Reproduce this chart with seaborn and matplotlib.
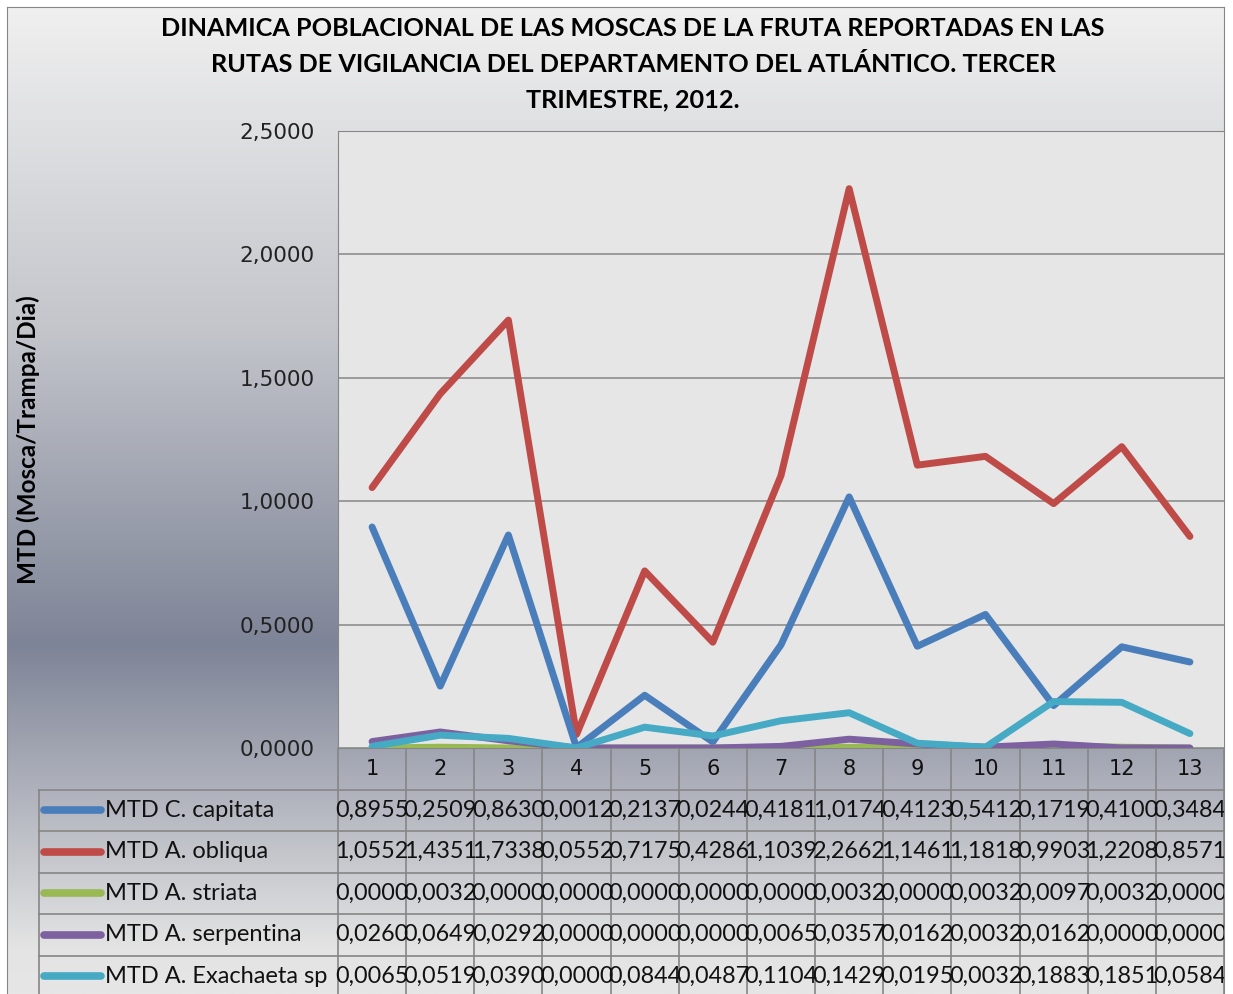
import numpy as np
import pandas as pd
import matplotlib.pyplot as plt
import seaborn as sns
from matplotlib.colors import to_rgb

# datos: MTD por semana del tercer trimestre 2012
semanas = list(range(1, 14))
especies = ['MTD C. capitata', 'MTD A. obliqua', 'MTD A. striata',
            'MTD A. serpentina', 'MTD A. Exachaeta sp']
capitata = [0.8955, 0.2509, 0.8630, 0.0012, 0.2137, 0.0244, 0.4181,
            1.0174, 0.4123, 0.5412, 0.1719, 0.4100, 0.3484]
obliqua = [1.0552, 1.4351, 1.7338, 0.0552, 0.7175, 0.4286, 1.1039,
           2.2662, 1.1461, 1.1818, 0.9903, 1.2208, 0.8571]
striata = [0.0000, 0.0032, 0.0000, 0.0000, 0.0000, 0.0000, 0.0000,
           0.0032, 0.0000, 0.0032, 0.0097, 0.0032, 0.0000]
serpentina = [0.0260, 0.0649, 0.0292, 0.0000, 0.0000, 0.0000, 0.0065,
              0.0357, 0.0162, 0.0032, 0.0162, 0.0000, 0.0000]
exachaeta = [0.0065, 0.0519, 0.0390, 0.0000, 0.0844, 0.0487, 0.1104,
             0.1429, 0.0195, 0.0032, 0.1883, 0.1851, 0.0584]
colores = ['#4A7EBB', '#BE4B48', '#98B954', '#7D60A0', '#46AAC5']
y_ticks = [0.0, 0.5, 1.0, 1.5, 2.0, 2.5]
titulo = ['DINAMICA POBLACIONAL DE LAS MOSCAS DE LA FRUTA REPORTADAS EN LAS',
          'RUTAS DE VIGILANCIA DEL DEPARTAMENTO DEL ATLÁNTICO. TERCER',
          'TRIMESTRE, 2012.']

valores = [capitata, obliqua, striata, serpentina, exachaeta]
df = pd.DataFrame({
    'Semana': semanas * len(especies),
    'MTD': sum(valores, []),
    'Especie': np.repeat(especies, len(semanas)),
})

W, H = 1233, 994
fx = lambda px: px / W
fy = lambda py: 1 - py / H
gris = '#868686'

fig = plt.figure(figsize=(W / 100, H / 100), dpi=100)

# fondo degradado del area del grafico
bg = fig.add_axes([fx(7), 0, fx(1224) - fx(7), fy(7)])
ys = np.arange(7, H + 1)
stops = [7, 330, 645, 950, 994]
cols = np.array([to_rgb(c) for c in ['#F0F0F0', '#C3C5CB', '#7E8497', '#E4E4E4', '#E6E6E6']])
grad = np.stack([np.interp(ys, stops, cols[:, i]) for i in range(3)], axis=-1)
bg.imshow(grad[:, None, :], aspect='auto', extent=(0, 1, H, 7))
bg.set_xlim(0, 1)
bg.set_ylim(H, 7)
bg.set_xticks([])
bg.set_yticks([])
for s in bg.spines.values():
    s.set_color(gris)
bg.spines['bottom'].set_visible(False)

# area de trazado
ax = fig.add_axes([fx(338), fy(748), fx(1224) - fx(338), fy(131) - fy(748)])
ax.set_facecolor('#E6E6E6')
sns.lineplot(data=df, x='Semana', y='MTD', hue='Especie', hue_order=especies,
             palette=colores, lw=5, legend=False, ax=ax,
             solid_capstyle='round', solid_joinstyle='round')
for line, z in zip(ax.lines, [3, 2, 4, 5, 6]):
    line.set_zorder(z)
ax.set_xlim(0.5, 13.5)
ax.set_ylim(0, 2.5)
ax.set_xticks([])
ax.set_yticks(y_ticks)
ax.set_yticklabels([f'{v:.4f}'.replace('.', ',') for v in y_ticks],
                   family='DejaVu Sans', fontsize=15.5, color='#222222')
ax.tick_params(axis='y', length=0, pad=17)
ax.yaxis.grid(True, color=gris, lw=1.1)
ax.set_axisbelow(True)
ax.set_xlabel('')
ax.set_ylabel('')
for k in ['left', 'top', 'bottom']:
    ax.spines[k].set_color(gris)
ax.spines['right'].set_visible(False)

fig.text(fx(28), fy(440), 'MTD (Mosca/Trampa/Dia)', rotation=90,
         family='Lato', fontweight='bold', fontsize=17.5, ha='center', va='center')
for i, t in enumerate(titulo):
    fig.text(fx(633), fy(28 + 36 * i), t, family='Lato', fontweight='bold',
             fontsize=18.2, ha='center', va='center')

# tabla de datos
paso = (1224 - 338) / 13
px = lambda p: 0.5 - (338 - p) / paso
fila = 41.5
tb = fig.add_axes([fx(38), 0, fx(1224) - fx(38), fy(748)])
tb.patch.set_alpha(0)
tb.set_xlim(px(38), 13.5)
tb.set_ylim((H - 748) / fila, 0)
tb.axis('off')
for k in range(14):
    tb.plot([0.5 + k, 0.5 + k], [0, 6], color=gris, lw=1.2, clip_on=True)
tb.plot([px(39), px(39)], [1, 6], color=gris, lw=1.2)
for r in range(1, 6):
    tb.plot([px(38), 13.5], [r, r], color=gris, lw=1.2)
for s in semanas:
    tb.text(s, 0.5, str(s), family='DejaVu Sans', fontsize=15,
            ha='center', va='center', color='#111111')
for r, (nombre, vals, c) in enumerate(zip(especies, valores, colores)):
    yc = r + 1.5
    tb.plot([px(44), px(101)], [yc, yc], color=c, lw=5.5, solid_capstyle='round')
    tb.text(px(105), yc, nombre, family='Lato', fontsize=17,
            ha='left', va='center', color='#111111')
    for s, v in zip(semanas, vals):
        tb.text(s, yc, f'{v:.4f}'.replace('.', ','), family='Lato', fontsize=16.8,
                ha='center', va='center', color='#111111', clip_on=True)

fig.savefig('out.png', dpi=100)
